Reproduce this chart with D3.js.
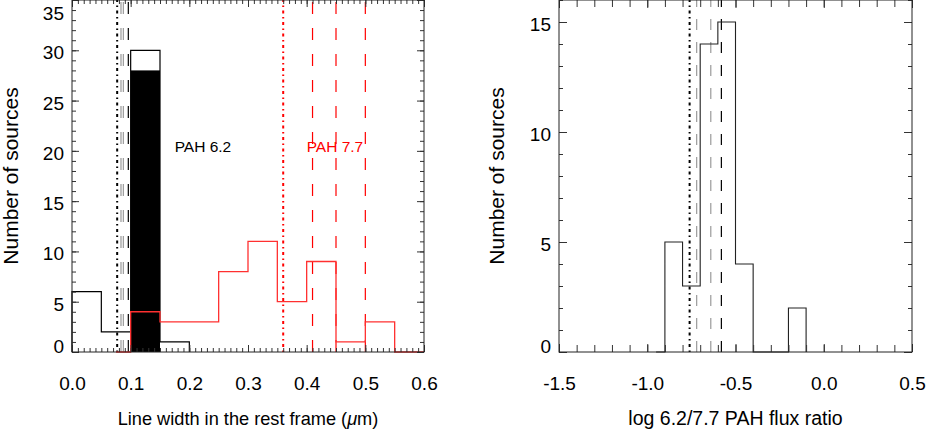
<!DOCTYPE html>
<html><head><meta charset="utf-8">
<script src="https://cdn.jsdelivr.net/npm/d3@7"></script>
<style>
body{margin:0;background:#fff;}
svg text{font-family:"Liberation Sans",Arial,Helvetica,sans-serif;}
</style></head><body>
<svg id="c" width="926" height="433"></svg>
<script>
// ---------- DATA ----------
// Left panel: line widths (micron)
const widthEdges62 = [0.00, 0.05, 0.10, 0.15, 0.20];
const widthCounts62 = [6, 2, 30, 1];
const filledBins62 = [{x0: 0.10, x1: 0.15, n: 28}];
const widthEdges77 = [0.075, 0.10, 0.15, 0.20, 0.25, 0.30, 0.35, 0.40, 0.45, 0.50, 0.55, 0.60];
const widthCounts77 = [0, 4, 3, 3, 8, 11, 5, 9, 1, 3, 0];
const widthMarkers = [
  {v: 0.077, kind: "dashdot", color: "black"},
  {v: 0.0835, kind: "dash", color: "gray"},
  {v: 0.0875, kind: "dash", color: "gray"},
  {v: 0.096, kind: "dash", color: "black"},
  {v: 0.36, kind: "dashdot", color: "red"},
  {v: 0.41, kind: "dash", color: "red"},
  {v: 0.45, kind: "dash", color: "red"},
  {v: 0.50, kind: "dash", color: "red"}
];
const widthXTicks = [0.0, 0.1, 0.2, 0.3, 0.4, 0.5, 0.6];
const widthXTickLabels = ["0.0", "0.1", "0.2", "0.3", "0.4", "0.5", "0.6"];
const widthYTicks = [0, 5, 10, 15, 20, 25, 30, 35];
const widthYTickLabels = ["0", "5", "10", "15", "20", "25", "30", "35"];
const bandLabels = [
  {text: "PAH 6.2", x: 0.175, y: 19.9, color: "black"},
  {text: "PAH 7.7", x: 0.4, y: 19.9, color: "red"}
];

// Right panel: log 6.2/7.7 ratio
const ratioEdges = [-0.95, -0.9, -0.8, -0.7, -0.6, -0.5, -0.4, -0.3, -0.2, -0.1];
const ratioCounts = [0, 5, 3, 14, 15, 4, 0, 0, 2];
const ratioMarkers = [
  {v: -0.76, kind: "dashdot", color: "black"},
  {v: -0.72, kind: "dash", color: "gray"},
  {v: -0.64, kind: "dash", color: "gray"},
  {v: -0.58, kind: "dash", color: "black"}
];
const ratioXTicks = [-1.5, -1.0, -0.5, 0.0, 0.5];
const ratioXTickLabels = ["-1.5", "-1.0", "-0.5", "0.0", "0.5"];
const ratioYTicks = [0, 5, 10, 15];
const ratioYTickLabels = ["0", "5", "10", "15"];

// ---------- DRAW ----------
const svg = d3.select("#c");
const FONT = "'Liberation Sans', Arial, Helvetica, sans-serif";
const colorMap = {black: "#000", gray: "#9a9a9a", red: "#ff0000"};

function stepPoints(edges, counts) {
  const pts = [[edges[0], 0]];
  counts.forEach((c, i) => { pts.push([edges[i], c]); pts.push([edges[i + 1], c]); });
  pts.push([edges[edges.length - 1], 0]);
  return pts;
}

function frame(g, x, y, o) {
  const [xl, xr] = x.range();
  const [yb, yt] = y.range();
  const clean = s => s.call(a => a.select(".domain").remove())
                      .attr("font-family", null).attr("font-size", null);
  const tickStyle = s => s.selectAll(".tick line").attr("stroke", "#333").attr("stroke-width", 1);
  // bottom
  g.append("g").attr("transform", `translate(0,${yb})`)
    .call(d3.axisBottom(x).tickValues(o.xMinor).tickSize(-o.xMinLen).tickFormat(""))
    .call(clean).call(tickStyle);
  g.append("g").attr("transform", `translate(0,${yb})`)
    .call(d3.axisBottom(x).tickValues(o.xTicks).tickSize(-o.xMajLen).tickPadding(25)
      .tickFormat((d, i) => o.xLabels[i]))
    .call(clean).call(tickStyle)
    .selectAll("text").attr("font-size", 19).attr("fill", "#000").style("font-family", FONT);
  // top
  g.append("g").attr("transform", `translate(0,${yt})`)
    .call(d3.axisTop(x).tickValues(o.xMinor).tickSize(-o.xMinLen).tickFormat(""))
    .call(clean).call(tickStyle);
  g.append("g").attr("transform", `translate(0,${yt})`)
    .call(d3.axisTop(x).tickValues(o.xTicks).tickSize(-o.xMajLen).tickFormat(""))
    .call(clean).call(tickStyle);
  // left
  g.append("g").attr("transform", `translate(${xl},0)`)
    .call(d3.axisLeft(y).tickValues(o.yMinor).tickSize(-o.yMinLen).tickFormat(""))
    .call(clean).call(tickStyle);
  g.append("g").attr("transform", `translate(${xl},0)`)
    .call(d3.axisLeft(y).tickValues(o.yTicks).tickSize(-o.yMajLen).tickPadding(8)
      .tickFormat((d, i) => o.yLabels[i]))
    .call(clean).call(tickStyle)
    .selectAll("text").attr("font-size", 19).attr("fill", "#000").style("font-family", FONT)
    .attr("dy", d => d === y.domain()[0] ? "0.5" : (d === y.domain()[1] ? "19.5" : "8.5"));
  // right
  g.append("g").attr("transform", `translate(${xr},0)`)
    .call(d3.axisRight(y).tickValues(o.yMinor).tickSize(-o.yMinLen).tickFormat(""))
    .call(clean).call(tickStyle);
  g.append("g").attr("transform", `translate(${xr},0)`)
    .call(d3.axisRight(y).tickValues(o.yTicks).tickSize(-o.yMajLen).tickFormat(""))
    .call(clean).call(tickStyle);
  // box
  g.append("rect").attr("x", xl).attr("y", yt).attr("width", xr - xl).attr("height", yb - yt)
    .attr("fill", "none").attr("stroke", "#222").attr("stroke-width", 1);
  // titles
  g.append("text").attr("x", (xl + xr) / 2).attr("y", 425).attr("text-anchor", "middle")
    .attr("font-size", o.xTitleSize).style("font-family", FONT).html(o.xTitle);
  g.append("text").attr("transform", `translate(${o.yTitleX},${(yb + yt) / 2}) rotate(-90)`)
    .attr("text-anchor", "middle").attr("font-size", 21).style("font-family", FONT).text(o.yTitle);
}

function markers(g, x, y, list, dashes) {
  g.selectAll(null).data(list).join("line")
    .attr("x1", d => x(d.v)).attr("x2", d => x(d.v))
    .attr("y1", y.range()[0]).attr("y2", y.range()[1])
    .attr("stroke", d => colorMap[d.color])
    .attr("stroke-width", d => d.kind === "dashdot" ? 2 : 1.2)
    .attr("stroke-dasharray", d => d.kind === "dashdot" ? "1.5,3.5,3,3.5" : dashes);
}

// ---- Left panel ----
{
  const x = d3.scaleLinear().domain([0, 0.6]).range([72, 424]);
  const y = d3.scaleLinear().domain([0, 35]).range([352, 0]);
  const g = svg.append("g");
  g.selectAll(null).data(filledBins62).join("rect")
    .attr("x", d => x(d.x0)).attr("width", d => x(d.x1) - x(d.x0))
    .attr("y", d => y(d.n)).attr("height", d => y(0) - y(d.n)).attr("fill", "#000");
  const line = d3.line().x(d => x(d[0])).y(d => y(d[1]));
  g.append("path").attr("d", line(stepPoints(widthEdges62, widthCounts62)))
    .attr("fill", "none").attr("stroke", "#000").attr("stroke-width", 1.2);
  markers(g, x, y, widthMarkers, "12,14");
  g.append("path").attr("d", line(stepPoints(widthEdges77, widthCounts77)))
    .attr("fill", "none").attr("stroke", "#ff3030").attr("stroke-width", 1.3);
  g.selectAll(null).data(bandLabels).join("text")
    .attr("x", d => x(d.x)).attr("y", d => y(d.y)).attr("fill", d => d.color)
    .attr("font-size", 15.5).style("font-family", FONT).text(d => d.text);
  frame(g, x, y, {
    xTicks: widthXTicks, xLabels: widthXTickLabels, xMinor: d3.range(0, 0.6001, 0.01),
    xMajLen: 7, xMinLen: 4,
    yTicks: widthYTicks, yLabels: widthYTickLabels, yMinor: d3.range(0, 35.001, 1),
    yMajLen: 7, yMinLen: 4,
    xTitle: "Line width in the rest frame (<tspan font-style='italic'>μ</tspan>m)", xTitleSize: 18.2,
    yTitle: "Number of sources", yTitleX: 18
  });
}

// ---- Right panel ----
{
  const x = d3.scaleLinear().domain([-1.5, 0.5]).range([559, 912]);
  const y = d3.scaleLinear().domain([0, 16]).range([352, 0]);
  const g = svg.append("g");
  const line = d3.line().x(d => x(d[0])).y(d => y(d[1]));
  markers(g, x, y, ratioMarkers, "11,12");
  g.append("path").attr("d", line(stepPoints(ratioEdges, ratioCounts)))
    .attr("fill", "none").attr("stroke", "#222").attr("stroke-width", 1.1);
  frame(g, x, y, {
    xTicks: ratioXTicks, xLabels: ratioXTickLabels, xMinor: d3.range(-1.5, 0.5001, 0.1),
    xMajLen: 8, xMinLen: 7,
    yTicks: ratioYTicks, yLabels: ratioYTickLabels, yMinor: d3.range(0, 16.001, 1),
    yMajLen: 8, yMinLen: 4,
    xTitle: "log 6.2/7.7 PAH flux ratio", xTitleSize: 19.5,
    yTitle: "Number of sources", yTitleX: 504
  });
}
</script>
</body></html>
